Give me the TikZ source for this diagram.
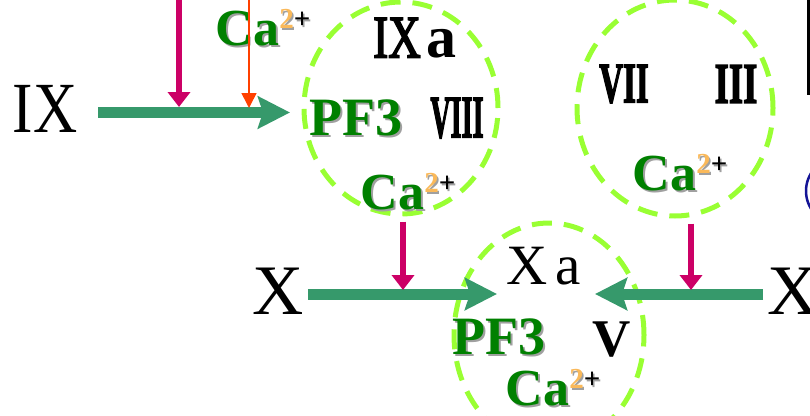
\documentclass[tikz,border=0pt]{standalone}
\usepackage{fontspec}
\setmainfont{Liberation Serif}
\newfontfamily\romfont[FakeBold=3]{Liberation Serif}
\usetikzlibrary{arrows.meta}

\definecolor{flow}{RGB}{54,153,107}
\definecolor{cofac}{RGB}{204,0,102}
\definecolor{ionred}{RGB}{255,64,0}
\definecolor{ring}{RGB}{153,255,51}
\definecolor{leaf}{RGB}{0,128,0}
\definecolor{shade}{RGB}{160,160,160}
\definecolor{charge}{RGB}{250,185,90}
\definecolor{oval}{RGB}{20,20,150}

% text with a grey drop shadow
\newcommand{\shd}[1]{\makebox[0pt][l]{\kern2pt\raisebox{-2pt}{\color{shade}#1}}#1}
\newcommand{\ionCa}{{\bfseries\shd{Ca}}\raisebox{17pt}{\fontsize{29}{29}\selectfont\bfseries
  \makebox[0pt][l]{\kern1.5pt\raisebox{-1.5pt}{\color{shade}2+}}\textcolor{charge}{2}\textcolor{black}{+}}}
\newcommand{\rn}[2]{\scalebox{#1}[1]{\romfont\bfseries #2}}

\tikzset{
  lbl/.style={inner sep=0pt, font=\fontsize{72}{72}\selectfont},
  ion/.style={inner sep=0pt, text=leaf, font=\fontsize{52}{52}\selectfont},
  pf/.style={inner sep=0pt, text=leaf, font=\fontsize{54}{54}\selectfont\bfseries},
  num/.style={inner sep=0pt, font=\fontsize{60}{60}\selectfont},
  pool/.style={draw=ring, line width=5pt, dash pattern=on 20pt off 12pt},
  flowarr/.style={draw=flow, line width=11pt, -{Stealth[length=32pt,width=32pt,inset=5pt]}},
  helper/.style={draw=cofac, line width=6pt, -{Triangle[length=15pt,width=22pt]}},
  thinarr/.style={draw=ionred, line width=1.6pt, -{Triangle[length=15pt,width=15pt]}},
}

\begin{document}
\begin{tikzpicture}[x=1pt,y=-1pt]
  \useasboundingbox (0,0) rectangle (810,415);

  % complexes
  \draw[pool] (401,108) ellipse [x radius=97pt, y radius=106pt];
  \draw[pool] (675,108) ellipse [x radius=98pt, y radius=108pt];
  \draw[pool] (549,335) ellipse [x radius=95pt, y radius=112pt];

  \node[lbl] (ix) at (45,109) {\scalebox{0.85}[1]{IX}};
  \node[ion] (ca0) at (263,29) {\ionCa};

  \node[inner sep=0pt, font=\fontsize{60}{60}\selectfont] (ixa) at (415,38) {\scalebox{0.75}[1]{\romfont IX}\kern6pt\textbf{a}};
  \node[pf] (pf1) at (356,119) {\shd{PF3}};
  \node[num] (viii) at (457,118) {\rn{0.47}{VIII}};
  \node[ion] (ca1) at (408,193) {\ionCa};

  \node[num, font=\fontsize{57}{57}\selectfont] (vii) at (624,84) {\rn{0.58}{VII}};
  \node[num, font=\fontsize{57}{57}\selectfont] (iii) at (736,84) {\rn{0.64}{III}};
  \node[ion] (ca2) at (680,174) {\ionCa};

  \node[inner sep=0pt, font=\fontsize{57}{57}\selectfont] (xa) at (544,266) {X\kern8pt a};
  \node[pf] (pf3) at (499,338) {\shd{PF3}};
  \node[num, font=\fontsize{53}{53}\selectfont\bfseries] (v) at (612,340) {V};
  \node[ion] (ca3) at (553,389) {\ionCa};

  \node[lbl, font=\fontsize{71}{71}\selectfont] (xl) at (278,291) {X};
  \node[lbl, font=\fontsize{71}{71}\selectfont] (xr) at (793,291) {X};

  \coordinate (t1) at (290,112.5);
  \coordinate (t2) at (497,294);
  \coordinate (t3) at (595,294);
  \coordinate (m0) at (179,-5);
  \coordinate (o0) at (249,-5);
  \coordinate (m1) at (403,290);
  \coordinate (m2) at (691,290);

  % activation steps
  \draw[flowarr, shorten <=21pt] (ix.east |- t1) -- (t1);
  \draw[flowarr, shorten <=4pt] (xl.east |- t2) -- (t2);
  \draw[flowarr, shorten <=4pt] (xr.west |- t3) -- (t3);

  \draw[helper] (m0) -- (179,107);
  \draw[thinarr] (o0) -- (249,108);
  \draw[helper, shorten <=9pt] (ca1.south -| m1) -- (m1);
  \draw[helper, shorten <=30pt] (ca2.south -| m2) -- (m2);

  % edge of the slide
  \draw[line width=2.5pt] (808.5,0) -- (808.5,95);
  \draw[oval, line width=2.5pt] (834,191) ellipse [x radius=28pt, y radius=31pt];
\end{tikzpicture}
\end{document}
